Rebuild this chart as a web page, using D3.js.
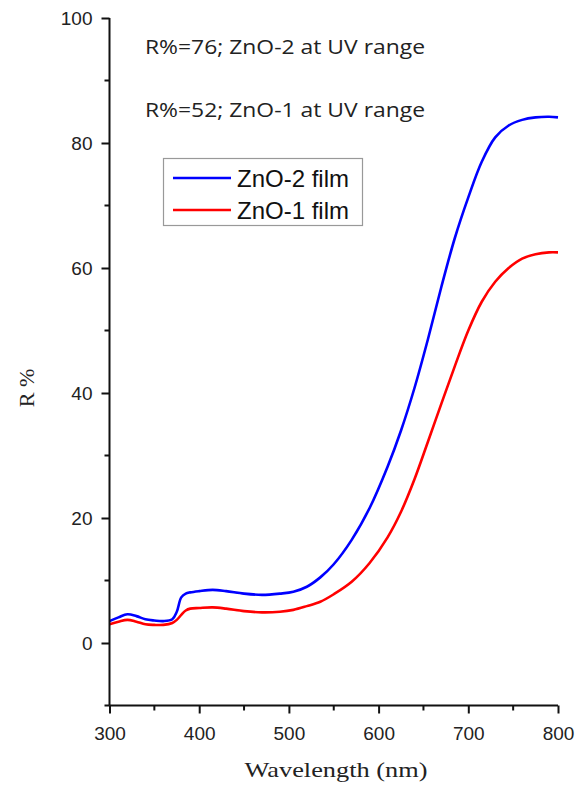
<!DOCTYPE html>
<html>
  <head>
    <meta charset="utf-8">
    <script src="https://cdn.jsdelivr.net/npm/d3@7"></script>
    <style>
      body, html {
        margin: 0;
        padding: 0;
        background: #fff;
        overflow: hidden;
      }
    </style>
    <title>R% vs wavelength</title>
  </head>
  <body>
    <svg id="chart" width="578" height="789"></svg>
    <script>
    // wavelength (nm)
    var wavelengths = [300, 310, 320, 330, 340, 350, 360, 370, 375, 380, 385, 390, 400, 415, 430, 450, 470, 490, 505, 520,
                       535, 550, 570, 590, 610, 625, 640, 655, 670, 685, 700, 715, 730, 745, 760, 775, 790, 800];
    // R % of ZnO-2 film (blue)
    var zno2 = [3.5, 4.1, 4.6, 4.3, 3.8, 3.6, 3.5, 3.8, 5.0, 7.3, 7.9, 8.1, 8.3, 8.5, 8.3, 7.9, 7.7, 7.9, 8.2, 9.0,
                10.5, 12.6, 16.5, 21.6, 28.2, 34.0, 40.8, 48.6, 57.0, 64.8, 71.3, 77.0, 80.9, 82.8, 83.7, 84.1, 84.2, 84.1];
    // R % of ZnO-1 film (red)
    var zno1 = [3.0, 3.4, 3.7, 3.4, 3.0, 2.9, 2.9, 3.2, 3.7, 4.5, 5.2, 5.5, 5.6, 5.7, 5.5, 5.1, 4.9, 5.0, 5.3, 5.9,
                6.6, 7.8, 9.8, 12.8, 16.9, 21.0, 26.2, 32.2, 38.3, 44.3, 50.0, 54.6, 57.8, 60.0, 61.5, 62.2, 62.5, 62.5];

    var xMajor = [300, 400, 500, 600, 700, 800];
    var xMinor = [350, 450, 550, 650, 750];
    var yMajor = [0, 20, 40, 60, 80, 100];
    var yMinor = [-10, 10, 30, 50, 70, 90];

    var seriesNames = ["ZnO-2 film", "ZnO-1 film"];
    var seriesColors = ["#0000ff", "#ff0000"];
    var notes = ["R%=76; ZnO-2 at UV range", "R%=52; ZnO-1 at UV range"];

    var svg = d3.select("#chart");
    var pLeft = 109.5, pTop = 18, pRight = 558, pBottom = 705.5;
    var sans = "'Liberation Sans', Arial, sans-serif";
    var serif = "'Liberation Serif', 'Times New Roman', serif";

    var x = d3.scaleLinear().domain([300, 800]).range([pLeft, pRight]);
    var y = d3.scaleLinear().domain([-10, 100]).range([pBottom, pTop]);

    // curves
    var line = d3.line()
      .x(function(d) { return x(d[0]); })
      .y(function(d) { return y(d[1]); })
      .curve(d3.curveCatmullRom.alpha(0.5));

    [zno2, zno1].forEach(function(vals, i) {
      var pts = wavelengths.map(function(w, j) { return [w, vals[j]]; });
      svg.append("path")
        .attr("d", line(pts))
        .attr("fill", "none")
        .attr("stroke", seriesColors[i])
        .attr("stroke-width", 2.6);
    });

    // axes
    var gx = svg.append("g").attr("transform", "translate(0," + pBottom + ")")
      .call(d3.axisBottom(x).tickValues(xMajor).tickSize(8).tickFormat(d3.format("d")));
    gx.append("g").selectAll("line").data(xMinor).enter().append("line")
      .attr("x1", function(d) { return x(d); }).attr("x2", function(d) { return x(d); })
      .attr("y1", 0).attr("y2", 5).attr("stroke", "#111").attr("stroke-width", 2);

    var gy = svg.append("g").attr("transform", "translate(" + pLeft + ",0)")
      .call(d3.axisLeft(y).tickValues(yMajor).tickSize(8).tickPadding(9).tickFormat(d3.format("d")));
    gy.append("g").selectAll("line").data(yMinor).enter().append("line")
      .attr("y1", function(d) { return y(d); }).attr("y2", function(d) { return y(d); })
      .attr("x1", 0).attr("x2", -5).attr("stroke", "#111").attr("stroke-width", 2);

    gx.select(".domain").attr("d", "M" + pLeft + ",0H" + pRight);
    gy.select(".domain").attr("d", "M0," + pTop + "V" + pBottom);
    [gx, gy].forEach(function(g) {
      g.attr("font-family", sans).attr("font-size", 19);
      g.select(".domain").attr("stroke", "#111").attr("stroke-width", 2);
      g.selectAll(".tick line").attr("stroke", "#111").attr("stroke-width", 2);
      g.selectAll(".tick text").attr("fill", "#222");
    });
    gx.selectAll(".tick text").attr("y", 34).attr("dy", 0);
    gy.selectAll(".tick text").attr("dy", "0.36em");

    // axis titles
    svg.append("text")
      .attr("x", 336).attr("y", 777).attr("text-anchor", "middle")
      .attr("font-family", serif).attr("font-size", 22).attr("fill", "#222")
      .attr("textLength", 183).attr("lengthAdjust", "spacingAndGlyphs")
      .text("Wavelength  (nm)");
    svg.append("text")
      .attr("transform", "translate(34,388) rotate(-90)").attr("text-anchor", "middle")
      .attr("font-family", serif).attr("font-size", 22).attr("fill", "#222")
      .text("R %");

    // notes
    svg.selectAll(".note").data(notes).enter().append("text")
      .attr("class", "note")
      .attr("x", 145).attr("y", function(d, i) { return 54 + i * 63; })
      .attr("font-family", "'Open Sans', sans-serif").attr("font-size", 20).attr("fill", "#222")
      .attr("textLength", 280).attr("lengthAdjust", "spacingAndGlyphs")
      .text(function(d) { return d; });

    // legend
    var lg = svg.append("g");
    lg.append("rect").attr("x", 163.5).attr("y", 158.5).attr("width", 199).attr("height", 67)
      .attr("fill", "#fff").attr("stroke", "#999").attr("stroke-width", 1.2);
    seriesNames.forEach(function(name, i) {
      var ly = 178 + i * 32;
      lg.append("line").attr("x1", 173).attr("x2", 231).attr("y1", ly).attr("y2", ly)
        .attr("stroke", seriesColors[i]).attr("stroke-width", 2.6);
      lg.append("text").attr("x", 237).attr("y", ly + 9)
        .attr("font-family", sans).attr("font-size", 24).attr("fill", "#111")
        .text(name);
    });
    </script>
  </body>
</html>
